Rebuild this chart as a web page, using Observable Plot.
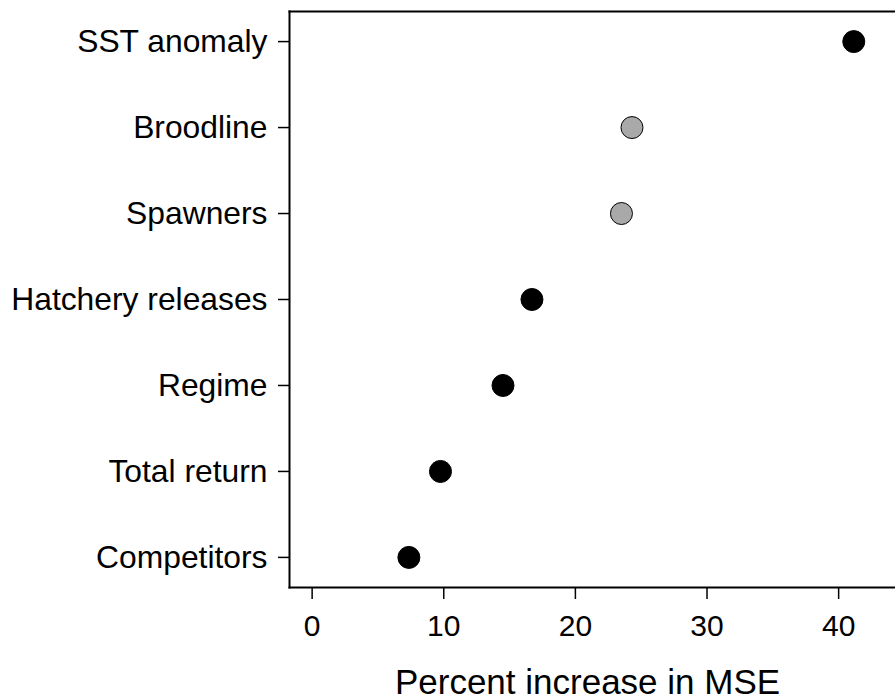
<!DOCTYPE html>
<html>
<head>
<meta charset="utf-8">
<script src="https://cdn.jsdelivr.net/npm/d3@7"></script>
<script src="https://cdn.jsdelivr.net/npm/@observablehq/plot@0.6"></script>
<style>
  html, body { margin: 0; padding: 0; background: white; }
</style>
</head>
<body>
<div id="chart"></div>
<script>
const variables = ["SST anomaly", "Broodline", "Spawners", "Hatchery releases", "Regime", "Total return", "Competitors"];
const pctIncMSE = [41.15, 24.3, 23.5, 16.7, 14.5, 9.75, 7.35];
const groups = ["main", "other", "other", "main", "main", "main", "main"];
const xTicks = [0, 10, 20, 30, 40];
const xTitle = "Percent increase in MSE";

const data = variables.map((v, i) => ({variable: v, value: pctIncMSE[i], group: groups[i]}));
const font = "'Liberation Sans', Arial, Helvetica, sans-serif";

const chart = Plot.plot({
  width: 895,
  height: 700,
  marginLeft: 289,
  marginRight: 0,
  marginTop: 11,
  marginBottom: 113,
  style: {fontFamily: font, background: "white", color: "black", overflow: "visible"},
  x: {domain: [-1.72, 44.32]},
  y: {type: "point", domain: variables, padding: 0.35, round: false},
  color: {type: "ordinal", domain: ["main", "other"], range: ["black", "#a9a9a9"]},
  marks: [
    Plot.axisX({ticks: xTicks, tickSize: 12, tickPadding: 15, fontSize: 30, strokeWidth: 1.5, label: null}),
    Plot.axisY({tickSize: 11, tickPadding: 11, fontSize: 31.8, strokeWidth: 1.5, label: null}),
    Plot.frame({anchor: "left", strokeWidth: 2}),
    Plot.frame({anchor: "top", strokeWidth: 2}),
    Plot.frame({anchor: "bottom", strokeWidth: 2}),
    Plot.dot(data, {x: "value", y: "variable", r: 11, fill: "group", stroke: "black", strokeWidth: 1}),
    Plot.text([xTitle], {frameAnchor: "bottom", dy: 106, dx: -5, fontSize: 35, fill: "black"})
  ]
});
document.getElementById("chart").appendChild(chart);
</script>
</body>
</html>
